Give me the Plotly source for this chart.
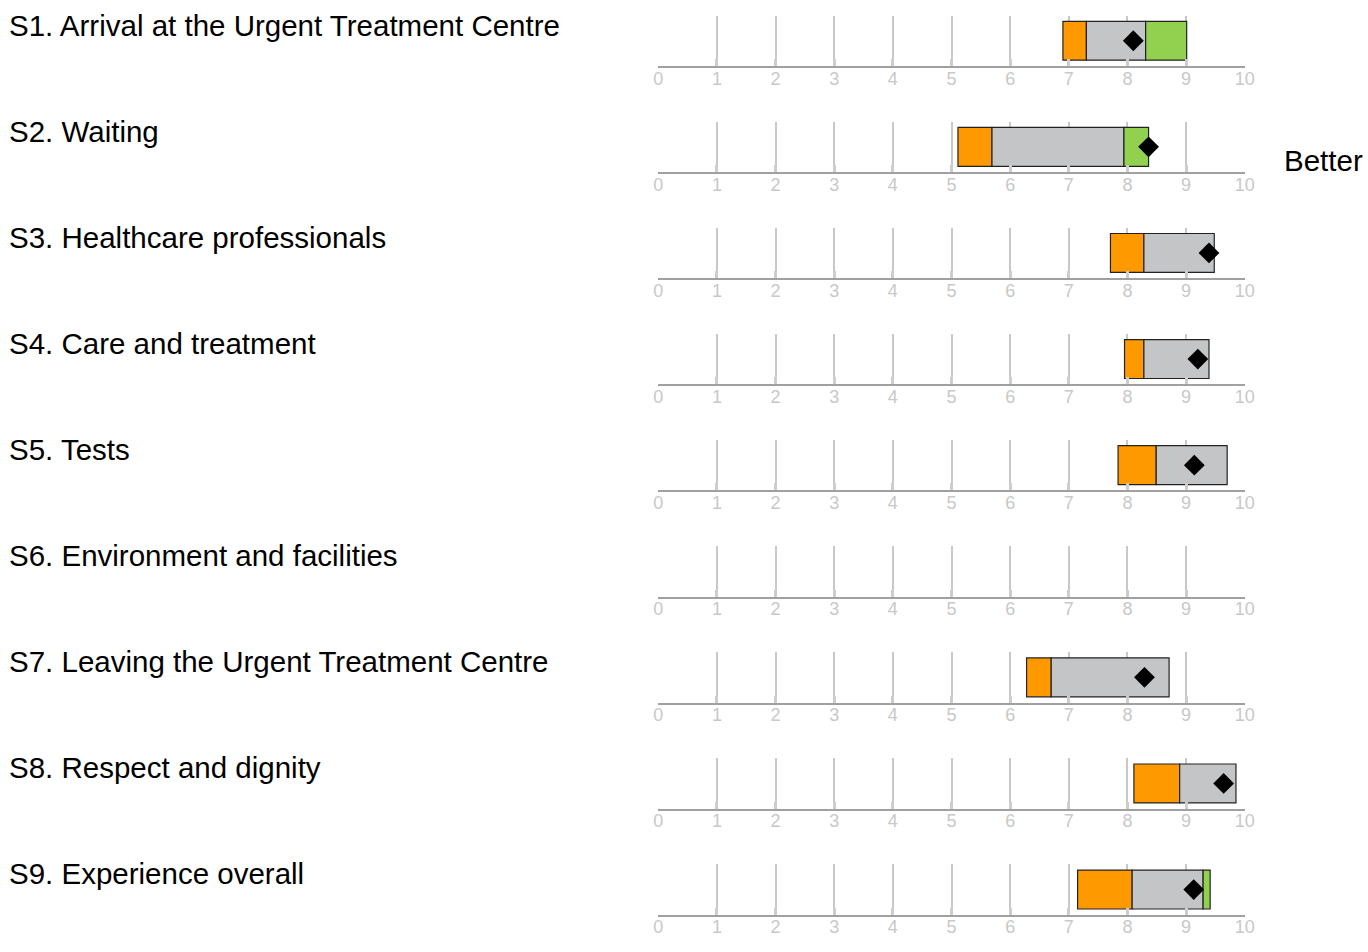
import plotly.graph_objects as go

labels = [
    "S1. Arrival at the Urgent Treatment Centre",
    "S2. Waiting",
    "S3. Healthcare professionals",
    "S4. Care and treatment",
    "S5. Tests",
    "S6. Environment and facilities",
    "S7. Leaving the Urgent Treatment Centre",
    "S8. Respect and dignity",
    "S9. Experience overall",
]
orange_start = [6.90, 5.11, 7.71, 7.95, 7.84, None, 6.28, 8.11, 7.15]
orange_end   = [7.30, 5.69, 8.28, 8.28, 8.49, None, 6.70, 8.89, 8.08]
grey_end     = [8.31, 7.94, 9.48, 9.39, 9.70, None, 8.71, 9.85, 9.29]
green_end    = [9.01, 8.36, None, None, None, None, None, None, 9.41]
scores       = [8.10, 8.36, 9.39, 9.20, 9.14, None, 8.29, 9.64, 9.13]
tick_vals = list(range(0, 11))
tick_text = [str(v) for v in tick_vals]

W, H = 1368, 952
ORANGE = "#FF9900"
GREY = "#C4C5C6"
GREEN = "#92D050"

fig = go.Figure()
layout = dict(
    width=W, height=H,
    margin=dict(l=0, r=0, t=0, b=0),
    paper_bgcolor="white", plot_bgcolor="white",
    showlegend=False,
    barmode="overlay",
    font=dict(family="Liberation Sans, Arial, sans-serif"),
)
annotations = []
x0_px, x1_px = 660.5, 1253.5
row_h = 106.1
top0, bot0 = 15.5, 66.0

for i, lab in enumerate(labels):
    n = i + 1
    xa = "x" if n == 1 else f"x{n}"
    ya = "y" if n == 1 else f"y{n}"
    top = top0 + row_h * i
    bot = bot0 + row_h * i
    layout["xaxis" if n == 1 else f"xaxis{n}"] = dict(
        domain=[x0_px / W, x1_px / W], range=[0, 10], anchor=ya,
        tickvals=tick_vals, ticktext=tick_text,
        showgrid=True, gridcolor="#C8C8C8", gridwidth=1.5,
        showline=True, linecolor="#A0A0A0", linewidth=2,
        ticks="inside", ticklen=7, tickwidth=3, tickcolor="#CDCDCD",
        tickfont=dict(size=18, color="#C8C8C8"),
        ticklabelstandoff=-5,
        zeroline=False, fixedrange=True,
    )
    layout["yaxis" if n == 1 else f"yaxis{n}"] = dict(
        domain=[1 - bot / H, 1 - top / H], range=[0, 1], anchor=xa,
        showgrid=False, showticklabels=False, zeroline=False, showline=False,
        fixedrange=True,
    )
    segs = []
    if orange_start[i] is not None:
        segs.append((orange_start[i], orange_end[i], ORANGE))
        segs.append((orange_end[i], grey_end[i], GREY))
        if green_end[i] is not None:
            segs.append((grey_end[i], green_end[i], GREEN))
    for s, e, c in segs:
        fig.add_trace(go.Bar(
            y=[0.5], x=[e - s], base=[s], orientation="h", width=0.77,
            marker=dict(color=c, line=dict(color="#222222", width=1.2)),
            xaxis=xa, yaxis=ya, hoverinfo="skip",
        ))
    fig.add_trace(go.Scatter(
        x=[scores[i]], y=[0.5], mode="markers",
        marker=dict(symbol="diamond", size=16, color="black"),
        xaxis=xa, yaxis=ya, hoverinfo="skip",
    ))
    annotations.append(dict(
        text=lab, xref="paper", yref="paper", x=2 / W, y=1 - (top + 9.5) / H,
        xanchor="left", yanchor="middle", showarrow=False,
        font=dict(size=29.5, color="black"),
    ))

annotations.append(dict(
    text="Better", xref="paper", yref="paper", x=1291 / W, y=1 - 160 / H,
    xanchor="left", yanchor="middle", showarrow=False,
    font=dict(size=29.5, color="black"),
))
layout["annotations"] = annotations
fig.update_layout(**layout)
fig.write_html(
    "out.html",
    config={"displayModeBar": False},
    post_script="document.body.style.margin='0';document.body.style.overflow='hidden';",
)
